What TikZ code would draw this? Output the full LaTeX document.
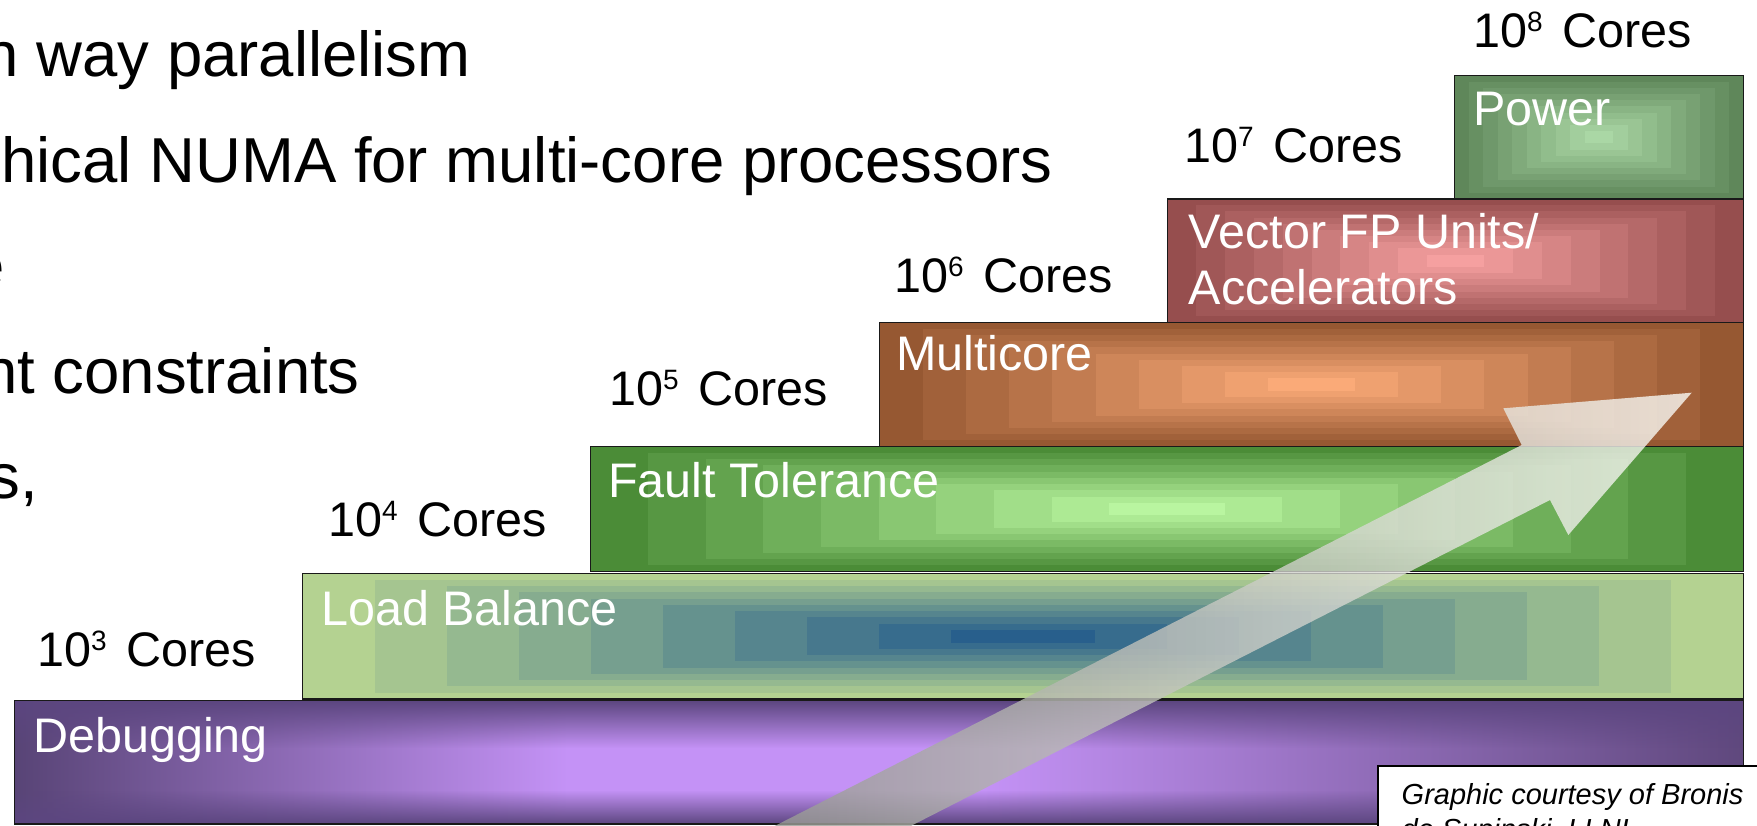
\documentclass[tikz,border=0pt]{standalone}
\usepackage{fontspec}
\setmainfont{Liberation Sans}
\usetikzlibrary{fadings}

\definecolor{pwO}{RGB}{95,135,90}
\definecolor{pwI}{RGB}{170,215,165}
\definecolor{vcO}{RGB}{150,78,78}
\definecolor{vcI}{RGB}{245,160,160}
\definecolor{mcO}{RGB}{150,88,50}
\definecolor{mcI}{RGB}{250,170,120}
\definecolor{ftO}{RGB}{75,140,55}
\definecolor{ftI}{RGB}{185,245,160}
\definecolor{lbO}{RGB}{180,210,145}
\definecolor{lbI}{RGB}{40,95,140}
\definecolor{dbA}{RGB}{88,68,118}
\definecolor{dbL}{RGB}{196,146,246}
\definecolor{dbB}{RGB}{95,72,125}
\definecolor{dbE}{RGB}{92,70,128}
\definecolor{arLo}{RGB}{150,152,145}
\definecolor{arHi}{RGB}{250,250,245}

\pgfdeclarehorizontalshading{debugsh}{100bp}{color(0bp)=(dbA); color(25bp)=(dbA); color(41bp)=(dbL); color(53bp)=(dbL); color(75bp)=(dbB); color(100bp)=(dbB)}

\tikzfading[name=fadedown, top color=transparent!0, bottom color=transparent!100]
\tikzfading[name=fadeup, top color=transparent!100, bottom color=transparent!0]

\newcommand{\gradbox}[6]{%
  \foreach \i in {0,...,9}{%
    \pgfmathsetmacro{\dx}{\i*(#3-#1)/20}%
    \pgfmathsetmacro{\dy}{\i*(#4-#2)/20}%
    \pgfmathtruncatemacro{\p}{round(\i*100/9)}%
    \fill[#6!\p!#5] ({#1+\dx},{#2+\dy}) rectangle ({#3-\dx},{#4-\dy});
  }%
  \draw[boxline] (#1,#2) rectangle (#3,#4);
}
\newcommand{\cores}[1]{10\raisebox{16pt}{\fontsize{28}{28}\selectfont #1}\hspace{0.4em}Cores}

\tikzset{
  body/.style={font=\fontsize{63.5}{76}\selectfont, inner sep=0pt, anchor=base east, text=black},
  corelbl/.style={font=\fontsize{48.5}{58}\selectfont, inner sep=0pt, anchor=base west, text=black},
  boxlbl/.style={font=\fontsize{48.5}{58}\selectfont, inner sep=0pt, anchor=base west, text=white},
  credit/.style={font=\fontsize{29}{35}\selectfont\itshape, inner sep=0pt, anchor=base west, text=black},
  boxline/.style={draw=black!90, line width=1.5pt},
}

\begin{document}
\begin{tikzpicture}[x=1pt,y=-1pt]
\useasboundingbox (0,0) rectangle (1757,825);
\fill[white] (0,0) rectangle (1757,825);

% left text lines (cut at left edge)
\node[body] (t1) at (471,76) {n way parallelism};
\node[body] (t2) at (1053,182) {hical NUMA for multi-core processors};
\node[body] (t3) at (5.5,287) {e};
\node[body] (t4) at (360,393) {nt constraints};
\node[body] (t5) at (38,498) {s,};

% stacked boxes
\gradbox{1454.5}{75.5}{1743.5}{199}{pwO}{pwI}
\gradbox{1167.5}{199}{1743.5}{322.5}{vcO}{vcI}
\gradbox{879.5}{322.5}{1743.5}{446.5}{mcO}{mcI}
\gradbox{590.5}{446.5}{1743.5}{571.5}{ftO}{ftI}
\gradbox{302.5}{573.5}{1743.5}{699}{lbO}{lbI}

% debugging box
\shade[shading=debugsh] (14.5,700.5) rectangle (1743.5,824);
\fill[dbE, path fading=fadedown] (14.5,700.5) rectangle (1743.5,748);
\fill[dbE, path fading=fadeup] (14.5,790) rectangle (1743.5,824);
\draw[boxline] (14.5,700.5) rectangle (1743.5,824);

% box labels
\node[boxlbl] (power) at (1473,125) {Power};
\node[boxlbl] (vec1) at (1188.5,248) {Vector FP Units/};
\node[boxlbl] (vec2) at (1188.5,304) {Accelerators};
\node[boxlbl] (multi) at (896,370) {Multicore};
\node[boxlbl] (fault) at (608,497) {Fault Tolerance};
\node[boxlbl] (load) at (321,625) {Load Balance};
\node[boxlbl] (debug) at (33,752.5) {Debugging};

% core count labels
\node[corelbl] (c3) at (37,666) {\cores{3}};
\node[corelbl] (c4) at (328,536) {\cores{4}};
\node[corelbl] (c5) at (609,405) {\cores{5}};
\node[corelbl] (c6) at (894,292) {\cores{6}};
\node[corelbl] (c7) at (1184,162) {\cores{7}};
\node[corelbl] (c8) at (1473,47) {\cores{8}};

% big translucent arrow
\coordinate (aB1) at (747.2,840);
\coordinate (aJ1) at (1521.7,445);
\coordinate (aL) at (1503.3,408.3);
\coordinate (aT) at (1691.7,392.7);
\coordinate (aR) at (1568.3,535);
\coordinate (aJ2) at (1550,500);
\coordinate (aB2) at (883.3,840);
\shade[left color=arLo, right color=arHi, opacity=0.8]
  (aB1) -- (aJ1) -- (aL) -- (aT) -- (aR) -- (aJ2) -- (aB2) -- cycle;

% credit box
\draw[fill=white, line width=2pt] (1378,765.5) rectangle (1775,845);
\node[credit] (cr1) at (1401.5,804) {Graphic courtesy of Bronis};
\node[credit] (cr2) at (1401.5,839) {de Supinski, LLNL};
\end{tikzpicture}
\end{document}
